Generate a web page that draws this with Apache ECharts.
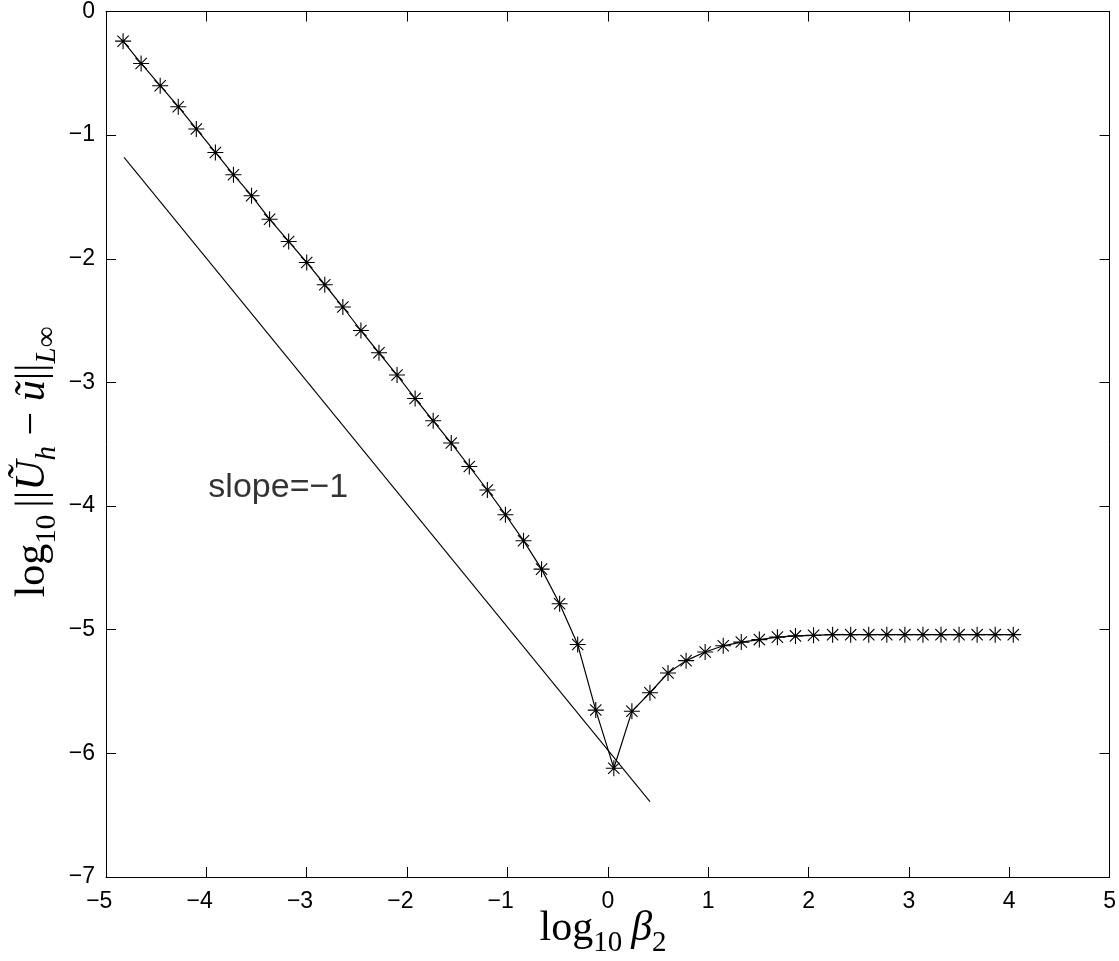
<!DOCTYPE html>
<html><head><meta charset="utf-8">
<script src="https://cdn.jsdelivr.net/npm/echarts@6/dist/echarts.min.js"></script>
<style>html,body{margin:0;padding:0;background:#fff}#c{width:1119px;height:961px}</style>
</head><body><div id="c"></div>
<script>
// ---- data ----
const xValues = [-4.83,-4.65,-4.46,-4.28,-4.10,-3.91,-3.73,-3.55,-3.37,-3.18,
  -3.00,-2.82,-2.64,-2.46,-2.28,-2.10,-1.92,-1.74,-1.56,-1.38,
  -1.20,-1.02,-0.84,-0.66,-0.48,-0.30,-0.12,0.06,0.24,0.42,
  0.60,0.78,0.97,1.15,1.33,1.51,1.69,1.87,2.05,2.24,
  2.42,2.60,2.78,2.96,3.14,3.32,3.50,3.68,3.86,4.04];
const yValues = [-0.24,-0.42,-0.60,-0.77,-0.95,-1.14,-1.32,-1.49,-1.68,-1.86,
  -2.03,-2.21,-2.39,-2.58,-2.76,-2.94,-3.13,-3.31,-3.49,-3.68,
  -3.87,-4.07,-4.28,-4.51,-4.79,-5.12,-5.65,-6.12,-5.66,-5.51,
  -5.35,-5.25,-5.18,-5.13,-5.10,-5.08,-5.06,-5.05,-5.045,-5.04,
  -5.04,-5.04,-5.04,-5.04,-5.04,-5.04,-5.04,-5.04,-5.04,-5.04];
const refLineX = [-4.82, 0.42];
const refLineY = [-1.18, -6.39];
const slopeText = 'slope=\u22121';
const slopeAt = [-3.98, -3.85];
const xTickLabels = ['-5','-4','-3','-2','-1','0','1','2','3','4','5'];
const yTickLabels = ['-7','-6','-5','-4','-3','-2','-1','0'];

// ---- helpers ----
const fmt = s => s.replace('-', '\u2212');
const serif = "'Liberation Serif','DejaVu Serif',serif";
const sans = "'Liberation Sans',Arial,Helvetica,sans-serif";
const ctx = document.createElement('canvas').getContext('2d');
function mathText(tokens, size) {
  const subSize = Math.round(size * 0.7);
  let x = 0; const items = [];
  tokens.forEach(tk => {
    const fs = tk.sub ? subSize : size;
    const style = tk.it ? 'italic' : 'normal';
    ctx.font = style + ' ' + fs + 'px ' + serif;
    const w = ctx.measureText(tk.t).width;
    items.push({t: tk.t, x: x, fs: fs, style: style, dy: tk.sub ? size * 0.34 : 0});
    x += w + (tk.gap || 0);
  });
  const W = x;
  return items.map(it => ({
    type: 'text', x: it.x - W / 2, y: it.dy,
    style: {text: it.t, fill: '#000', font: it.style + ' ' + it.fs + 'px ' + serif,
      textAlign: 'left', textVerticalAlign: 'middle', verticalAlign: 'middle'}
  }));
}

const xTitle = mathText([{t:'log'},{t:'10',sub:1,gap:9},{t:'\u03B2',it:1},{t:'2',sub:1}], 42);
const yTitle = mathText([{t:'log'},{t:'10',sub:1,gap:7},{t:'||'},{t:'\u0168',it:1},{t:'h',it:1,sub:1},
  {t:' \u2212 '},{t:'\u0169',it:1},{t:'||'},{t:'L',it:1,sub:1},{t:'\u221E',sub:1}], 42);

const star = 'path://M0,8L16,8M8,0L8,16M2.35,2.35L13.65,13.65M13.65,2.35L2.35,13.65';
const chart = echarts.init(document.getElementById('c'), null, {renderer: 'canvas'});
const axisCommon = {
  type: 'value', axisLine: {show: true, onZero: false, lineStyle: {color: '#000', width: 1}},
  axisTick: {show: true, inside: true, length: 10, lineStyle: {color: '#000', width: 1}},
  splitLine: {show: false}
};
chart.setOption({
  animation: false,
  backgroundColor: '#fff',
  grid: {left: 106, right: 9, top: 9, bottom: 84, containLabel: false},
  xAxis: [
    Object.assign({}, axisCommon, {position: 'bottom', min: -5, max: 5, interval: 1,
      axisLabel: {margin: 13, fontSize: 23, fontFamily: sans, color: '#000',
        formatter: v => { const s = xTickLabels[Math.round(v) + 5];
          return s.startsWith('-') ? '{m|\u2212}' + s.slice(1) + '{h|\u2212}' : s; },
        rich: {m: {fontSize: 23, fontFamily: sans, color: '#000'}, h: {fontSize: 23, fontFamily: sans, color: 'rgba(0,0,0,0)'}}}}),
    Object.assign({}, axisCommon, {position: 'top', min: -5, max: 5, interval: 1, axisLabel: {show: false}})
  ],
  yAxis: [
    Object.assign({}, axisCommon, {position: 'left', min: -7, max: 0, interval: 1,
      axisLabel: {margin: 11, fontSize: 23, fontFamily: sans, color: '#000',
        formatter: v => fmt(yTickLabels[Math.round(v) + 7])}}),
    Object.assign({}, axisCommon, {position: 'right', min: -7, max: 0, interval: 1, axisLabel: {show: false}})
  ],
  series: [
    {type: 'line', data: xValues.map((x, i) => [x, yValues[i]]), symbol: star, symbolSize: 16,
      lineStyle: {color: '#000', width: 1.2}, itemStyle: {color: '#000', borderColor: '#000', borderWidth: 1.1},
      z: 3},
    {type: 'line', data: refLineX.map((x, i) => [x, refLineY[i]]), symbol: 'none',
      lineStyle: {color: '#000', width: 1.1}, z: 2},
    {type: 'scatter', data: [slopeAt], symbolSize: 0,
      label: {show: true, position: 'right', distance: 0, formatter: slopeText,
        fontSize: 34, fontFamily: sans, color: '#000'}}
  ],
  graphic: [
    {type: 'group', x: 603, y: 929, children: xTitle},
    {type: 'group', x: 33, y: 462, rotation: Math.PI / 2, children: yTitle}
  ]
});
</script></body></html>
